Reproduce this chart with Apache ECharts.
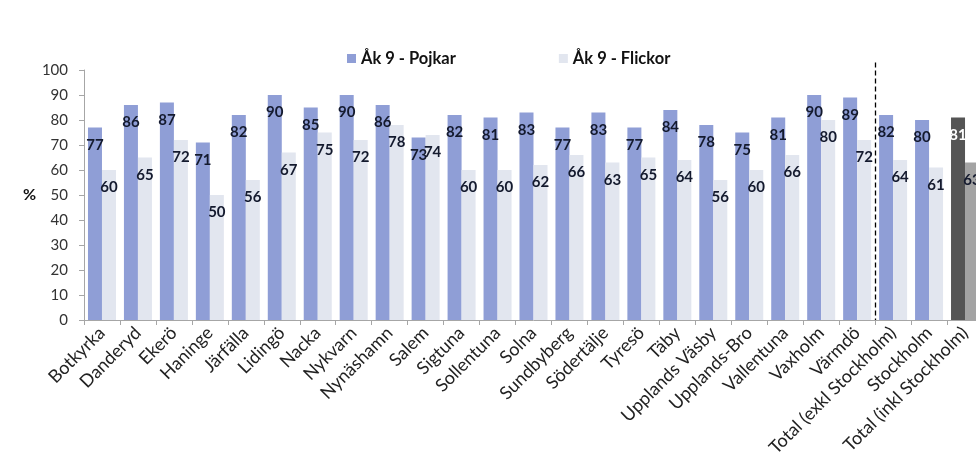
<!DOCTYPE html>
<html><head><meta charset="utf-8">
<script src="https://cdn.jsdelivr.net/npm/echarts@6/dist/echarts.min.js"></script>
<style>html,body{margin:0;padding:0;background:#fff;overflow:hidden;width:976px;height:472px}#c{width:990px;height:472px}</style>
</head><body><div id="c"></div>
<script>
var categories = ["Botkyrka","Danderyd","Ekerö","Haninge","Järfälla","Lidingö","Nacka","Nykvarn","Nynäshamn","Salem","Sigtuna","Sollentuna","Solna","Sundbyberg","Södertälje","Tyresö","Täby","Upplands Väsby","Upplands-Bro","Vallentuna","Vaxholm","Värmdö","Total (exkl Stockholm)","Stockholm","Total (inkl Stockholm)"];
var pojkar = [77,86,87,71,82,90,85,90,86,73,82,81,83,77,83,77,84,78,75,81,90,89,82,80,81];
var flickor = [60,65,72,50,56,67,75,72,78,74,60,60,62,66,63,65,64,56,60,66,80,72,64,61,63];
var yTicks = [0,10,20,30,40,50,60,70,80,90,100];
var seriesNames = ["Åk 9 - Pojkar","Åk 9 - Flickor"];

var FONT = "Lato, 'Open Sans', sans-serif";
var last = categories.length - 1;
function build(vals, hiColor, hiLabel){
  return vals.map(function(v,i){
    if(i===last){
      return {value:v, itemStyle:{color:hiColor}, label:{color:hiLabel}};
    }
    return {value:v};
  });
}
var chart = echarts.init(document.getElementById('c'), null, {renderer:'canvas'});
var labelCfg = {show:true, position:'insideTop', distance:10, fontFamily:FONT, fontSize:15, fontWeight:'bold', color:'#141a2e'};
chart.setOption({
  backgroundColor:'#ffffff',
  animation:false,
  textStyle:{fontFamily:FONT},
  legend:{
    left:342, top:45, icon:'rect', itemWidth:9, itemHeight:9, itemGap:103,
    textStyle:{fontFamily:FONT, fontSize:16.5, fontWeight:'bold', color:'#111'},
    data:seriesNames
  },
  grid:{left:84, top:70, width:899, height:250, containLabel:false},
  xAxis:{
    type:'category', data:categories,
    axisLine:{lineStyle:{color:'#a6a6a6'}},
    axisTick:{show:true, length:5, lineStyle:{color:'#a6a6a6'}},
    axisLabel:{rotate:45, interval:0, margin:10, fontFamily:FONT, fontSize:18, color:'#222'}
  },
  yAxis:{
    type:'value', min:yTicks[0], max:yTicks[yTicks.length-1], interval:10,
    name:'%', nameLocation:'middle', nameRotate:0, nameGap:43,
    nameTextStyle:{fontFamily:FONT, fontSize:16, fontWeight:'bold', color:'#111', padding:[16,0,0,0]},
    axisLine:{show:true, lineStyle:{color:'#a6a6a6'}},
    axisTick:{show:true, length:5, lineStyle:{color:'#a6a6a6'}},
    axisLabel:{margin:16, fontFamily:FONT, fontSize:15, color:'#333'},
    splitLine:{show:false}
  },
  series:[
    {name:seriesNames[0], type:'bar', barWidth:14, barGap:'0%',
     itemStyle:{color:'#8f9ed6'}, label:labelCfg,
     data:build(pojkar,'#555555','#ffffff')},
    {name:seriesNames[1], type:'bar', barWidth:14,
     itemStyle:{color:'#e2e6ef'}, label:labelCfg,
     data:build(flickor,'#a3a3a3','#141a2e')}
  ]
});
var x1 = chart.convertToPixel({xAxisIndex:0}, categories[21]);
var x2 = chart.convertToPixel({xAxisIndex:0}, categories[22]);
var xm = Math.round((x1+x2)/2)+0.5;
var y0 = chart.convertToPixel({yAxisIndex:0}, 0);
var yTop = chart.convertToPixel({yAxisIndex:0}, 103);
chart.setOption({graphic:[{type:'line', shape:{x1:xm,y1:yTop,x2:xm,y2:y0}, style:{stroke:'#000', lineWidth:1.3, lineDash:[5,3]}, z:10}]});
</script></body></html>
